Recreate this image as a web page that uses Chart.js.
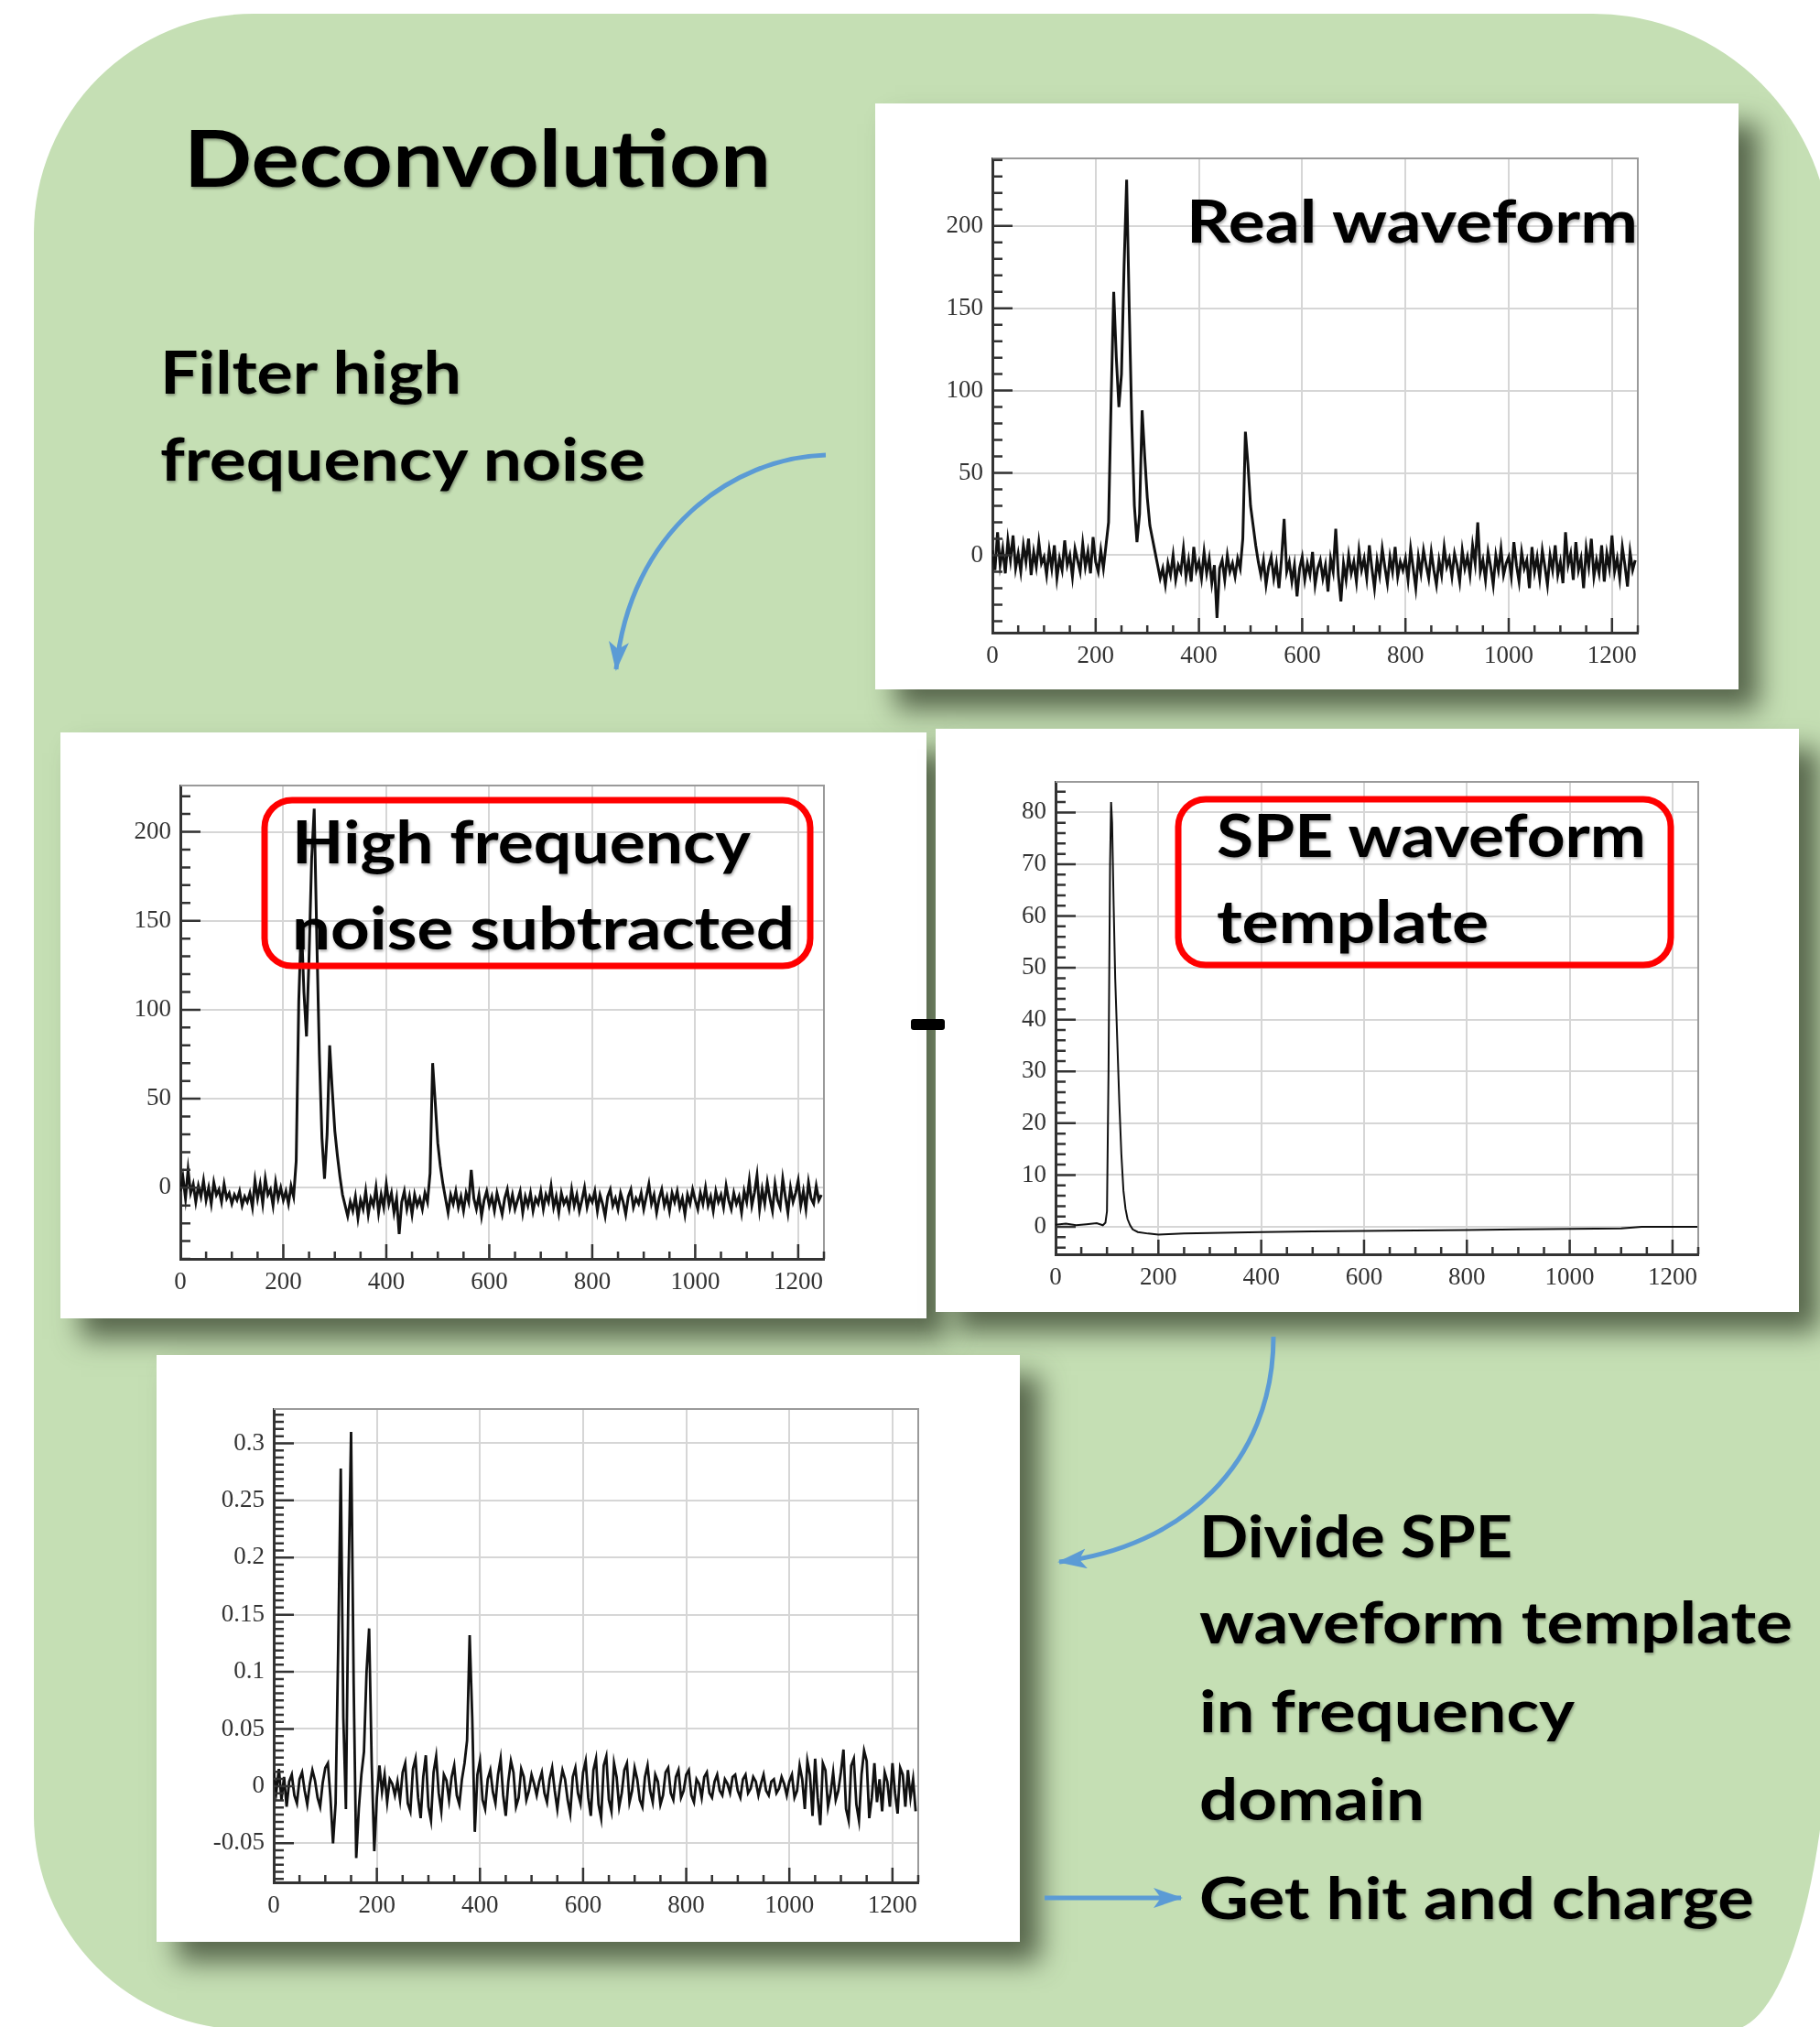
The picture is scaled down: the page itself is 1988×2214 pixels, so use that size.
<!DOCTYPE html>
<html>
<head>
<meta charset="utf-8">
<script src="https://cdn.jsdelivr.net/npm/chart.js@4.4.1/dist/chart.umd.min.js"></script>
<style>
  body { margin: 0; width: 1988px; height: 2214px; overflow: hidden; background: #fff; position: relative; }
  #panel { position: absolute; left: 37px; top: 15px; width: 1963px; height: 2202px; background: #c5dfb4;
           border-radius: 240px 260px 110px 234px / 240px 260px 400px 234px; }
  .box { position: absolute; background: #fff; box-shadow: 22px 22px 28px rgba(60,72,50,0.8); }
  .box canvas { position: absolute; left: 0; top: 0; }
  #ov { position: absolute; left: 0; top: 0; pointer-events: none; }
  #ov text { font-family: Lato, "Open Sans", sans-serif; font-weight: bold; fill: #000; }
</style>
</head>
<body>
<div id="panel"></div>
<div class="box" style="left:956px;top:113px;width:943px;height:640px"><canvas id="c1" width="943" height="640"></canvas></div>
<div class="box" style="left:66px;top:800px;width:946px;height:640px"><canvas id="c2" width="946" height="640"></canvas></div>
<div class="box" style="left:1022px;top:796px;width:943px;height:637px"><canvas id="c3" width="943" height="637"></canvas></div>
<div class="box" style="left:171px;top:1480px;width:943px;height:641px"><canvas id="c4" width="943" height="641"></canvas></div>

<svg id="ov" width="1988" height="2214">
  <defs>
    <filter id="soft" x="-5%" y="-20%" width="110%" height="140%">
      <feDropShadow dx="1" dy="2" stdDeviation="1.5" flood-color="#000" flood-opacity="0.35"/>
    </filter>
    <marker id="ah" markerUnits="userSpaceOnUse" markerWidth="32" markerHeight="24" refX="30" refY="11" orient="auto">
      <path d="M0,0 L32,11 L0,22 L8,11 z" fill="#5b9bd5"/>
    </marker>
  </defs>
  <g filter="url(#soft)">
    <text x="201" y="204" font-size="86" textLength="641" lengthAdjust="spacingAndGlyphs">Deconvolution</text>
    <text x="175" y="430" font-size="65" textLength="329" lengthAdjust="spacingAndGlyphs">Filter high</text>
    <text x="175" y="525" font-size="65" textLength="530" lengthAdjust="spacingAndGlyphs">frequency noise</text>
    <text x="1296" y="265" font-size="65" textLength="493" lengthAdjust="spacingAndGlyphs">Real waveform</text>
    <text x="319" y="943" font-size="65" textLength="501" lengthAdjust="spacingAndGlyphs">High frequency</text>
    <text x="319" y="1037" font-size="65" textLength="549" lengthAdjust="spacingAndGlyphs">noise subtracted</text>
    <text x="1329" y="936" font-size="65" textLength="469" lengthAdjust="spacingAndGlyphs">SPE waveform</text>
    <text x="1329" y="1030" font-size="65" textLength="297" lengthAdjust="spacingAndGlyphs">template</text>
    <text x="1310" y="1701" font-size="64" textLength="342" lengthAdjust="spacingAndGlyphs">Divide SPE</text>
    <text x="1310" y="1795" font-size="64" textLength="648" lengthAdjust="spacingAndGlyphs">waveform template</text>
    <text x="1310" y="1892" font-size="64" textLength="410" lengthAdjust="spacingAndGlyphs">in frequency</text>
    <text x="1310" y="1988" font-size="64" textLength="246" lengthAdjust="spacingAndGlyphs">domain</text>
    <text x="1310" y="2096" font-size="64" textLength="606" lengthAdjust="spacingAndGlyphs">Get hit and charge</text>
  </g>
  <rect x="289" y="874" width="596" height="181" rx="30" fill="none" stroke="#ff0000" stroke-width="7"/>
  <rect x="1287" y="873" width="538" height="181" rx="30" fill="none" stroke="#ff0000" stroke-width="7"/>
  <rect x="995" y="1113" width="37" height="12" rx="3" fill="#000"/>
  <path d="M902,497 C800,500 688,580 673,731" stroke="#5b9bd5" stroke-width="5" fill="none" marker-end="url(#ah)"/>
  <path d="M1391,1460 C1391,1600 1290,1690 1157,1706" stroke="#5b9bd5" stroke-width="5" fill="none" marker-end="url(#ah)"/>
  <path d="M1141,2073 L1290,2073" stroke="#5b9bd5" stroke-width="5" fill="none" marker-end="url(#ah)"/>
</svg>

<script>
// sample spacing of the waveforms (ns)
const STEP = 5;

// real waveform, one value every STEP ns from 0
const realWave = [
  3, -9, 14, -6, 4, -11, 9, -3, 12, -8, 1, -10, 6, -4, 10, -12, 2, -7, 8, -5,
  -1, -12, 3, -8, 6, -14, -2, -9, 9, -6, 0, -13, 4, -3, -10, 7, -7, 2, -11, 11,
  -4, -10, 3, -8, 6, 20, 95, 160, 120, 90, 110, 175, 228, 150, 80, 30, 8, 25, 88, 60,
  35, 18, 10, 2, -6, -14, -8, -18, -5, -12, 0, -15, -6, -10, 4, -13, -3, -16, 5, -9,
  -4, -14, 2, -11, -2, -17, -6, -38, -8, -3, -15, 0, -10, -5, -13, -2, -8, 10, 75, 55,
  30, 18, 6, -4, -12, -3, -18, -7, -1, -14, -5, -20, -2, 22, -10, -4, -16, -6, -25, -8,
  -1, -15, -5, -12, 2, -18, -8, -3, -14, -6, -22, -2, -10, 16, -12, -28, -5, -15, 0, -11,
  -4, -16, 3, -9, -2, -14, 6, -8, -20, -3, -12, 4, -7, -17, -1, -10, 5, -13, -4, -9,
  -2, -15, 4, -8, -20, -1, -11, 3, -6, -14, 2, -9, -18, -3, -12, 5, -7, -2, -13, 1,
  -6, -16, 3, -8, -1, -12, 6, -5, 20, -10, -3, -15, 2, -7, -18, 0, -9, 4, -12, -5,
  -1, -13, 8, -6, -16, 2, -8, -3, -20, 5, -10, -1, -14, 3, -7, -18, 0, -9, 6, -12,
  -4, -17, 14, -6, 1, -15, 8, -9, -2, -20, 4, -7, 10, -13, -3, -11, 6, -16, 1, -8,
  12, -10, -2, -14, 5, -6, -19, 2, -9, -3
];

// after the high frequency filter
const filteredWave = [
  -2, 6, -6, 10, -3, 2, -8, 1, -5, 4, -7, 0, -9, 3, -4, -1, -8, 2, -6, -3,
  -9, -4, -7, -2, -10, -5, -8, -3, -11, 4, -6, 2, -9, 5, -4, -1, -10, 3, -6, 0,
  -7, -2, -9, 1, -5, 15, 105, 150, 110, 85, 130, 185, 213, 140, 75, 28, 5, 30, 80, 55,
  32, 18, 6, -4, -10, -16, -8, -13, -5, -17, -7, -12, -2, -15, -6, -10, 0, -14, -4, -11,
  2, -9, -3, -14, -6, -26, -8, -2, -12, -5, -15, -4, -10, -6, -12, -3, -8, 8, 70, 48,
  25, 12, 2, -6, -14, -4, -9, -2, -11, -5, -13, -3, -8, 10, -6, -12, -4, -16, -7, -2,
  -10, -5, -13, -3, -9, -15, -6, -1, -11, -4, -12, -7, -2, -14, -5, -10, -3, -13, -6, -9,
  -2, -12, -4, -8, 1, -11, -5, -14, -3, -9, -6, -12, -1, -10, -4, -13, -7, 0, -11, -5,
  -8, -2, -13, -4, -9, -16, -5, -1, -10, -6, -12, -3, -8, -15, -5, -1, -11, -6, -9, -3,
  -12, -5, 2, -9, -4, -14, -6, -1, -10, -5, -13, -3, -8, -2, -11, -6, -15, -4, -9, -1,
  -7, -12, -3, -9, 0, -10, -5, -13, -2, -8, -4, -11, 1, -7, -12, -3, -9, -5, -14, -2,
  -8, 4, -10, -3, 7, -12, -1, -9, 3, -6, -13, 2, -7, -11, 5, -5, -14, 0, -8, -3,
  4, -10, -2, -12, 3, -6, -9, 1, -7, -4
];

// SPE template, irregular sampling
const speX = [0, 20, 40, 60, 80, 92, 97, 100, 103, 106, 108, 110, 113, 116, 120, 124, 128, 132, 136, 140,
  145, 150, 160, 180, 200, 250, 300, 400, 500, 600, 700, 800, 900, 1000, 1100, 1140, 1200, 1250];
const speY = [0.4, 0.6, 0.3, 0.5, 0.7, 0.3, 0.8, 3, 30, 70, 82, 78, 62, 48, 36, 24, 14, 7, 3.5, 1.5,
  0.3, -0.5, -1.0, -1.3, -1.5, -1.3, -1.2, -1.0, -0.9, -0.8, -0.7, -0.6, -0.5, -0.4, -0.3, 0, 0, 0];

// deconvolved waveform
const deconvWave = [
  0.012, -0.005, 0.015, -0.012, 0.008, -0.018, 0.004, 0.010, -0.008, -0.015, 0.006, 0.012, -0.004, -0.016, 0.002, 0.014, 0.005, -0.010, -0.018, 0.003,
  0.016, 0.020, -0.010, -0.050, -0.015, 0.120, 0.278, 0.060, -0.020, 0.180, 0.310, 0.090, -0.063, -0.020, 0.010, 0.030, 0.100, 0.138, 0.020, -0.057,
  -0.010, 0.018, -0.005, 0.010, -0.014, 0.006, 0.002, -0.008, 0.004, -0.012, 0.012, 0.020, -0.015, -0.022, 0.015, 0.024, -0.010, -0.028, 0.008, 0.027,
  -0.018, -0.030, 0.012, 0.026, -0.006, -0.022, 0.010, 0.005, -0.012, 0.008, 0.018, -0.008, -0.016, 0.006, 0.020, 0.040, 0.132, 0.060, -0.040, 0.010,
  0.022, -0.012, -0.020, 0.006, 0.014, -0.005, -0.015, 0.010, 0.024, -0.008, -0.026, 0.004, 0.022, 0.012, -0.018, -0.010, 0.015, 0.008, -0.012, -0.004,
  0.010, 0.002, -0.008, 0.004, 0.012, -0.006, -0.014, 0.006, 0.016, -0.004, -0.020, 0.000, 0.014, 0.006, -0.012, -0.024, 0.008, 0.016, -0.006, -0.015,
  0.012, 0.022, -0.010, -0.026, 0.014, 0.024, -0.016, -0.028, 0.018, 0.026, -0.012, -0.022, 0.020, 0.008, -0.018, -0.006, 0.014, 0.020, -0.014, -0.004,
  0.016, 0.006, -0.012, -0.018, 0.008, 0.018, -0.004, -0.014, 0.010, 0.004, -0.016, -0.008, 0.012, 0.016, -0.006, -0.012, 0.008, 0.014, -0.010, -0.004,
  0.010, 0.014, -0.008, -0.014, 0.006, 0.002, -0.010, 0.008, 0.012, -0.006, -0.010, 0.004, 0.010, -0.004, -0.008, 0.006, 0.002, -0.006, 0.008, 0.010,
  -0.004, -0.010, 0.006, 0.010, -0.006, -0.002, 0.008, 0.004, -0.008, 0.002, 0.010, -0.004, -0.008, 0.004, 0.006, -0.006, -0.002, 0.008, 0.002, -0.008,
  0.004, 0.010, -0.010, -0.004, 0.018, 0.006, -0.020, 0.022, 0.010, -0.026, 0.024, -0.010, -0.034, 0.020, 0.014, -0.018, -0.006, 0.012, -0.012, -0.004,
  0.012, 0.032, -0.020, -0.030, 0.018, 0.024, -0.016, -0.030, 0.010, 0.031, 0.022, -0.028, -0.010, 0.020, -0.014, 0.006, -0.022, 0.012, 0.004, -0.018,
  0.020, -0.006, -0.024, 0.016, 0.010, -0.018, 0.014, -0.010, 0.006, -0.022
];

// ROOT style frame: inner tick marks plus grey top/right edges
const rootFrame = {
  id: 'rootFrame',
  afterDraw(chart, args, o) {
    const { ctx, chartArea: a, scales: { x, y } } = chart;
    ctx.save();
    ctx.strokeStyle = '#9a9a9a';
    ctx.lineWidth = 2;
    ctx.beginPath();
    ctx.moveTo(a.left, a.top); ctx.lineTo(a.right, a.top); ctx.lineTo(a.right, a.bottom);
    ctx.stroke();
    ctx.strokeStyle = '#333';
    ctx.lineWidth = 2.5;
    ctx.beginPath();
    for (let k = 1; k * o.xMinor <= x.max; k++) {
      const v = k * o.xMinor;
      const px = x.getPixelForValue(v);
      const len = (v % o.xMajor === 0) ? 16 : 8;
      ctx.moveTo(px, a.bottom); ctx.lineTo(px, a.bottom - len);
    }
    for (let k = Math.ceil(y.min / o.yMinor); k * o.yMinor <= y.max; k++) {
      const v = k * o.yMinor;
      const py = y.getPixelForValue(v);
      const r = v / o.yMajor;
      const len = Math.abs(r - Math.round(r)) < 1e-6 ? 22 : 11;
      ctx.moveTo(a.left, py); ctx.lineTo(a.left + len, py);
    }
    ctx.stroke();
    ctx.restore();
  }
};

Chart.defaults.font.family = 'Liberation Serif';

const plain = v => String(Math.round(v * 1e6) / 1e6);

function wave(id, xs, ys, box, yr, ticks, lw) {
  const pts = ys.map((v, i) => ({ x: xs ? xs[i] : i * STEP, y: v }));
  const tickFont = { family: 'Liberation Serif', size: 27 };
  new Chart(document.getElementById(id), {
    type: 'line',
    data: { datasets: [{ data: pts, borderColor: '#111', borderWidth: lw, pointRadius: 0, tension: 0 }] },
    options: {
      responsive: false,
      animation: false,
      layout: { padding: { left: 0, top: box.top, right: box.right, bottom: 0 } },
      plugins: { legend: { display: false }, tooltip: { enabled: false }, rootFrame: ticks },
      scales: {
        x: {
          type: 'linear', min: 0, max: 1250,
          afterFit(s) { s.height = box.xh; },
          ticks: { stepSize: 200, includeBounds: false, font: tickFont, color: '#333', padding: 10, maxRotation: 0,
                   callback: plain },
          grid: { color: '#d6d6d6', lineWidth: 2, drawTicks: false },
          border: { color: '#333', width: 3 }
        },
        y: {
          type: 'linear', min: yr[0], max: yr[1],
          afterFit(s) { s.width = box.left; },
          ticks: { stepSize: yr[2], includeBounds: false, font: tickFont, color: '#333', padding: 10,
                   callback: plain },
          grid: { color: '#d6d6d6', lineWidth: 2, drawTicks: false },
          border: { color: '#333', width: 3 }
        }
      }
    },
    plugins: [rootFrame]
  });
}

wave('c1', null, realWave, { left: 128, top: 60, right: 110, xh: 62 }, [-47, 241, 50],
     { xMinor: 50, xMajor: 200, yMinor: 10, yMajor: 50 }, 3);
wave('c2', null, filteredWave, { left: 131, top: 58, right: 112, xh: 65 }, [-40, 226, 50],
     { xMinor: 50, xMajor: 200, yMinor: 10, yMajor: 50 }, 3);
wave('c3', speX, speY, { left: 131, top: 58, right: 110, xh: 63 }, [-5.3, 85.9, 10],
     { xMinor: 50, xMajor: 200, yMinor: 2, yMajor: 10 }, 2);
wave('c4', null, deconvWave, { left: 128, top: 59, right: 111, xh: 65 }, [-0.0842, 0.33, 0.05],
     { xMinor: 50, xMajor: 200, yMinor: 0.00625, yMajor: 0.05 }, 2.8);
</script>
</body>
</html>
